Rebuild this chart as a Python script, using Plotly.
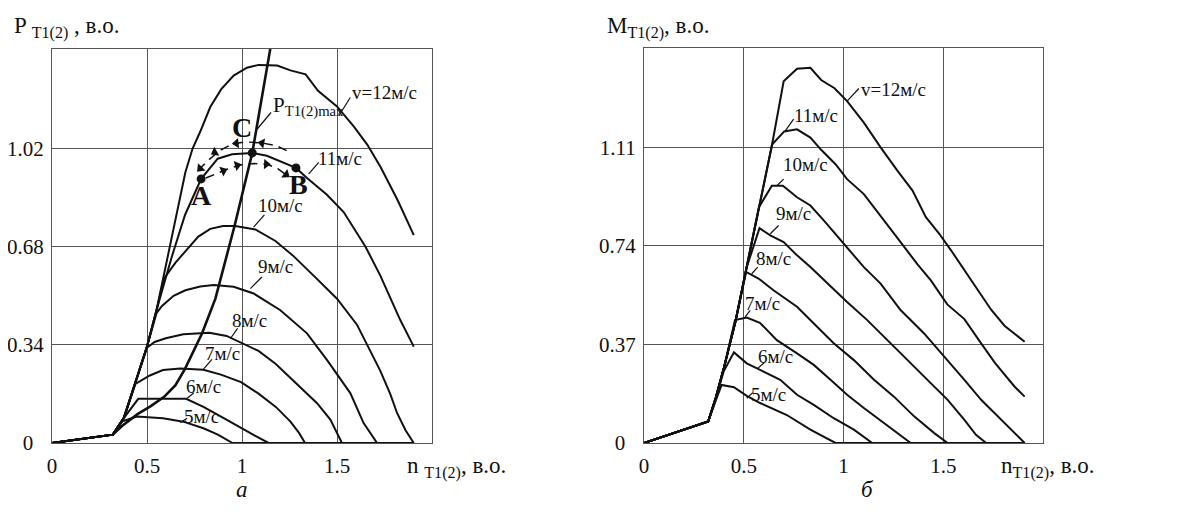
import math
import plotly.graph_objects as go

FONT = "Liberation Serif"

# ---------------- Left chart (а): power P vs speed n ----------------
p12_n = [0, 0.32, 0.378, 0.431, 0.50, 0.55, 0.59, 0.65, 0.702, 0.74, 0.781, 0.833, 0.89, 0.956, 1.026, 1.088, 1.185, 1.255, 1.335, 1.40, 1.50, 1.59, 1.66, 1.73, 1.82, 1.904]
p12_v = [0, 0.029, 0.086, 0.194, 0.334, 0.46, 0.587, 0.77, 0.938, 1.02, 1.08, 1.164, 1.225, 1.273, 1.30, 1.31, 1.308, 1.291, 1.277, 1.22, 1.166, 1.095, 1.033, 0.955, 0.84, 0.72]
p11_n = [0, 0.32, 0.378, 0.431, 0.50, 0.55, 0.629, 0.70, 0.785, 0.872, 0.948, 1.054, 1.131, 1.284, 1.342, 1.447, 1.535, 1.65, 1.728, 1.833, 1.904]
p11_v = [0, 0.029, 0.086, 0.194, 0.334, 0.46, 0.642, 0.79, 0.915, 0.985, 1.0, 1.005, 0.995, 0.953, 0.918, 0.86, 0.80, 0.68, 0.58, 0.426, 0.334]
p10_n = [0, 0.32, 0.378, 0.431, 0.50, 0.55, 0.59, 0.65, 0.705, 0.77, 0.833, 0.90, 0.964, 1.07, 1.176, 1.267, 1.389, 1.50, 1.605, 1.675, 1.728, 1.78, 1.816, 1.86, 1.904]
p10_v = [0, 0.029, 0.086, 0.194, 0.334, 0.46, 0.57, 0.625, 0.665, 0.715, 0.742, 0.752, 0.752, 0.74, 0.70, 0.65, 0.572, 0.50, 0.41, 0.32, 0.25, 0.17, 0.104, 0.045, 0]
p9_n = [0, 0.32, 0.378, 0.431, 0.50, 0.55, 0.579, 0.64, 0.702, 0.78, 0.851, 0.956, 1.061, 1.202, 1.342, 1.447, 1.570, 1.640, 1.711, 1.904]
p9_v = [0, 0.029, 0.086, 0.194, 0.334, 0.45, 0.475, 0.51, 0.529, 0.542, 0.547, 0.541, 0.518, 0.460, 0.380, 0.288, 0.173, 0.069, 0, 0]
p8_n = [0, 0.32, 0.378, 0.431, 0.50, 0.54, 0.599, 0.691, 0.828, 0.919, 0.995, 1.087, 1.178, 1.27, 1.395, 1.465, 1.526, 1.904]
p8_v = [0, 0.029, 0.086, 0.194, 0.330, 0.350, 0.363, 0.377, 0.382, 0.371, 0.348, 0.319, 0.274, 0.217, 0.138, 0.081, 0, 0]
p7_n = [0, 0.32, 0.378, 0.439, 0.515, 0.584, 0.675, 0.797, 0.889, 0.995, 1.087, 1.178, 1.255, 1.30, 1.332, 1.904]
p7_v = [0, 0.029, 0.086, 0.205, 0.234, 0.253, 0.258, 0.254, 0.237, 0.211, 0.171, 0.125, 0.074, 0.035, 0, 0]
p6_n = [0, 0.32, 0.378, 0.454, 0.706, 0.797, 0.904, 0.995, 1.07, 1.14, 1.904]
p6_v = [0, 0.029, 0.086, 0.153, 0.153, 0.125, 0.086, 0.051, 0.025, 0, 0]
p5_n = [0, 0.32, 0.37, 0.447, 0.584, 0.691, 0.797, 0.873, 0.95, 1.904]
p5_v = [0, 0.029, 0.075, 0.092, 0.086, 0.074, 0.051, 0.029, 0, 0]
pmax_n = [0.32, 0.37, 0.45, 0.52, 0.59, 0.65, 0.70, 0.79, 0.86, 0.96, 1.054, 1.15]
pmax_v = [0.029, 0.06, 0.10, 0.128, 0.16, 0.20, 0.257, 0.38, 0.50, 0.75, 1.005, 1.37]

left_ticks_x = [0, 0.5, 1, 1.5]
left_ticks_y = [0, 0.34, 0.68, 1.02]
left_tick_text_y = ["0\u00a0\u00a0", "0.34", "0.68", "1.02"]

# operating points A, C, B
pt_names = ["A", "C", "B"]
pt_n = [0.785, 1.054, 1.284]
pt_v = [0.915, 1.005, 0.953]
pt_lab_n = [0.786, 1.0, 1.295]
pt_lab_v = [0.857, 1.093, 0.897]

# dashed transition arcs
arc_up_n = [1.235, 1.18, 1.10, 1.02, 0.95, 0.88, 0.82, 0.775]
arc_up_v = [1.013, 1.030, 1.040, 1.043, 1.036, 1.012, 0.978, 0.948]
arc_lo_n = [0.81, 0.86, 0.92, 0.99, 1.06, 1.13, 1.19, 1.235]
arc_lo_v = [0.918, 0.932, 0.948, 0.963, 0.968, 0.966, 0.950, 0.928]
# arrow heads on the arcs: head point and the point it comes from
arrow_head_n = [1.105, 0.97, 0.857, 0.78, 0.902, 0.975, 1.128, 1.232]
arrow_head_v = [1.039, 1.038, 1.007, 0.951, 0.943, 0.962, 0.966, 0.930]
arrow_from_n = [1.18, 1.05, 0.92, 0.83, 0.84, 0.93, 1.05, 1.18]
arrow_from_v = [1.030, 1.043, 1.030, 0.985, 0.926, 0.954, 0.968, 0.955]

left_labels = ["v=12м/с", "11м/с", "10м/с", "9м/с", "8м/с", "7м/с", "6м/с", "5м/с"]
left_lab_n = [1.749, 1.518, 1.205, 1.175, 1.040, 0.895, 0.798, 0.789]
left_lab_v = [1.214, 0.984, 0.822, 0.612, 0.426, 0.311, 0.196, 0.092]
left_lead_n0 = [1.509, 1.351, 1.061, 1.044, 0.939, 0.798, 0.711, 0.675]
left_lead_v0 = [1.133, 0.932, 0.748, 0.535, 0.362, 0.257, 0.155, 0.071]
left_lead_n1 = [1.570, 1.404, 1.118, 1.105, 0.977, 0.842, 0.746, 0.711]
left_lead_v1 = [1.197, 0.972, 0.790, 0.575, 0.397, 0.290, 0.173, 0.086]
pmax_lab_n = 1.155
pmax_lab_v = 1.165
pmax_lead_n = [1.079, 1.153]
pmax_lead_v = [1.087, 1.145]

# ---------------- Right chart (б): torque M vs speed n ----------------
m12_n = [0, 0.322, 0.36, 0.40, 0.459, 0.515, 0.576, 0.642, 0.70, 0.767, 0.834, 0.888, 0.955, 1.018, 1.102, 1.186, 1.270, 1.346, 1.413, 1.480, 1.539, 1.606, 1.673, 1.740, 1.807, 1.908]
m12_v = [0, 0.081, 0.17, 0.28, 0.458, 0.66, 0.88, 1.12, 1.357, 1.404, 1.408, 1.362, 1.331, 1.283, 1.202, 1.109, 1.022, 0.947, 0.847, 0.785, 0.723, 0.648, 0.57, 0.50, 0.44, 0.380]
m11_n = [0, 0.322, 0.36, 0.40, 0.459, 0.515, 0.576, 0.642, 0.703, 0.767, 0.834, 0.888, 0.960, 1.018, 1.102, 1.186, 1.270, 1.371, 1.438, 1.520, 1.606, 1.690, 1.760, 1.857, 1.908]
m11_v = [0, 0.081, 0.17, 0.28, 0.458, 0.66, 0.88, 1.12, 1.169, 1.177, 1.146, 1.10, 1.046, 0.99, 0.934, 0.85, 0.77, 0.67, 0.61, 0.52, 0.465, 0.374, 0.30, 0.212, 0.174]
m10_n = [0, 0.322, 0.36, 0.40, 0.459, 0.515, 0.576, 0.641, 0.696, 0.767, 0.834, 0.901, 1.002, 1.102, 1.186, 1.287, 1.404, 1.522, 1.606, 1.690, 1.790, 1.857, 1.908]
m10_v = [0, 0.081, 0.17, 0.28, 0.458, 0.66, 0.885, 0.965, 0.965, 0.922, 0.891, 0.835, 0.747, 0.660, 0.598, 0.498, 0.411, 0.311, 0.237, 0.162, 0.087, 0.037, 0]
m9_n = [0, 0.322, 0.36, 0.40, 0.459, 0.515, 0.579, 0.633, 0.700, 0.767, 0.834, 0.935, 1.018, 1.119, 1.220, 1.320, 1.421, 1.522, 1.606, 1.664, 1.715, 1.908]
m9_v = [0, 0.081, 0.17, 0.28, 0.458, 0.66, 0.806, 0.779, 0.754, 0.704, 0.660, 0.586, 0.529, 0.461, 0.386, 0.311, 0.237, 0.162, 0.087, 0.031, 0, 0]
m8_n = [0, 0.322, 0.36, 0.40, 0.459, 0.512, 0.574, 0.649, 0.767, 0.851, 0.951, 1.052, 1.153, 1.253, 1.354, 1.455, 1.522, 1.908]
m8_v = [0, 0.081, 0.17, 0.28, 0.458, 0.642, 0.617, 0.573, 0.511, 0.448, 0.374, 0.311, 0.237, 0.174, 0.100, 0.037, 0, 0]
m7_n = [0, 0.322, 0.36, 0.40, 0.456, 0.515, 0.581, 0.666, 0.767, 0.851, 0.935, 1.018, 1.102, 1.203, 1.287, 1.337, 1.908]
m7_v = [0, 0.081, 0.17, 0.28, 0.461, 0.471, 0.451, 0.386, 0.336, 0.293, 0.237, 0.181, 0.131, 0.075, 0.031, 0, 0]
m6_n = [0, 0.322, 0.36, 0.40, 0.451, 0.515, 0.582, 0.683, 0.767, 0.851, 0.951, 1.052, 1.144, 1.908]
m6_v = [0, 0.081, 0.17, 0.27, 0.340, 0.299, 0.274, 0.237, 0.181, 0.143, 0.093, 0.050, 0, 0]
m5_n = [0, 0.322, 0.36, 0.389, 0.451, 0.515, 0.582, 0.716, 0.834, 0.960, 1.908]
m5_v = [0, 0.081, 0.16, 0.218, 0.209, 0.177, 0.150, 0.105, 0.050, 0, 0]

right_ticks_x = [0, 0.5, 1, 1.5]
right_ticks_y = [0, 0.37, 0.74, 1.11]
right_tick_text_y = ["0\u00a0\u00a0", "0.37", "0.74", "1.11"]

right_labels = ["v=12м/с", "11м/с", "10м/с", "9м/с", "8м/с", "7м/с", "6м/с", "5м/с"]
right_lab_n = [1.250, 0.864, 0.809, 0.747, 0.649, 0.596, 0.659, 0.624]
right_lab_v = [1.327, 1.227, 1.046, 0.860, 0.691, 0.523, 0.326, 0.181]
right_lead_n0 = [1.018, 0.708, 0.666, 0.633, 0.540, 0.507, 0.570, 0.515]
right_lead_v0 = [1.283, 1.171, 0.965, 0.785, 0.635, 0.473, 0.280, 0.168]
right_lead_n1 = [1.077, 0.750, 0.700, 0.675, 0.570, 0.532, 0.602, 0.545]
right_lead_v1 = [1.330, 1.215, 0.990, 0.816, 0.660, 0.498, 0.301, 0.189]

# ---------------- page geometry (body has an 8px margin) ----------------
W, H, OFF = 1163, 496, 8


def px(x):
    return (x - OFF) / W


def py(y):
    return 1 - (y - OFF) / H


L_DOM_X = [px(52), px(432)]
L_DOM_Y = [py(443), py(49)]
L_RANGE_Y = [0, 1.365]
# screen pixels per data unit in the left chart (to orient arrow heads)
sx = (L_DOM_X[1] - L_DOM_X[0]) * W / 2.0
sy = (L_DOM_Y[1] - L_DOM_Y[0]) * H / (L_RANGE_Y[1] - L_RANGE_Y[0])
arrow_angle = [math.degrees(math.atan2((hx - fx) * sx, (hy - fy) * sy))
               for hx, hy, fx, fy in zip(arrow_head_n, arrow_head_v, arrow_from_n, arrow_from_v)]

# ---------------- figure ----------------
fig = go.Figure()
LINE = dict(color="#111111", width=2)

left_curves = [(p12_n, p12_v), (p11_n, p11_v), (p10_n, p10_v), (p9_n, p9_v),
               (p8_n, p8_v), (p7_n, p7_v), (p6_n, p6_v), (p5_n, p5_v)]
for xs, ys in left_curves:
    fig.add_trace(go.Scatter(x=xs, y=ys, mode="lines", line=LINE, xaxis="x", yaxis="y", hoverinfo="skip"))
fig.add_trace(go.Scatter(x=pmax_n, y=pmax_v, mode="lines", line=dict(color="#111111", width=2.6),
                         xaxis="x", yaxis="y", hoverinfo="skip"))
fig.add_trace(go.Scatter(x=arc_up_n, y=arc_up_v, mode="lines", line=dict(color="#111111", width=1.5, dash="9px,6px"),
                         xaxis="x", yaxis="y", hoverinfo="skip"))
fig.add_trace(go.Scatter(x=arc_lo_n, y=arc_lo_v, mode="lines", line=dict(color="#111111", width=1.5, dash="9px,6px"),
                         xaxis="x", yaxis="y", hoverinfo="skip"))
fig.add_trace(go.Scatter(x=arrow_head_n, y=arrow_head_v, mode="markers",
                         marker=dict(symbol="triangle-up", size=9, color="#111111", angle=arrow_angle,
                                     line=dict(width=0)),
                         xaxis="x", yaxis="y", hoverinfo="skip"))
fig.add_trace(go.Scatter(x=pt_n, y=pt_v, mode="markers", marker=dict(color="#111111", size=9),
                         xaxis="x", yaxis="y", hoverinfo="skip"))
for i in range(len(left_labels)):
    fig.add_trace(go.Scatter(x=[left_lead_n0[i], left_lead_n1[i]], y=[left_lead_v0[i], left_lead_v1[i]],
                             mode="lines", line=dict(color="#111111", width=1.2), xaxis="x", yaxis="y", hoverinfo="skip"))
fig.add_trace(go.Scatter(x=pmax_lead_n, y=pmax_lead_v, mode="lines", line=dict(color="#111111", width=1.2),
                         xaxis="x", yaxis="y", hoverinfo="skip"))

right_curves = [(m12_n, m12_v), (m11_n, m11_v), (m10_n, m10_v), (m9_n, m9_v),
                (m8_n, m8_v), (m7_n, m7_v), (m6_n, m6_v), (m5_n, m5_v)]
for xs, ys in right_curves:
    fig.add_trace(go.Scatter(x=xs, y=ys, mode="lines", line=LINE, xaxis="x2", yaxis="y2", hoverinfo="skip"))
for i in range(len(right_labels)):
    fig.add_trace(go.Scatter(x=[right_lead_n0[i], right_lead_n1[i]], y=[right_lead_v0[i], right_lead_v1[i]],
                             mode="lines", line=dict(color="#111111", width=1.2), xaxis="x2", yaxis="y2", hoverinfo="skip"))

ann = []
LABFONT = dict(family=FONT, size=19, color="#111111")
for t, x, y in zip(left_labels, left_lab_n, left_lab_v):
    ann.append(dict(text=t, x=x, y=y, xref="x", yref="y", showarrow=False, font=LABFONT))
for t, x, y in zip(right_labels, right_lab_n, right_lab_v):
    ann.append(dict(text=t, x=x, y=y, xref="x2", yref="y2", showarrow=False, font=LABFONT))
for t, x, y in zip(pt_names, pt_lab_n, pt_lab_v):
    ann.append(dict(text="<b>" + t + "</b>", x=x, y=y, xref="x", yref="y", showarrow=False,
                    font=dict(family=FONT, size=28, color="#111111")))
ann.append(dict(text="P<sub>T1(2)max</sub>", x=pmax_lab_n, y=pmax_lab_v, xref="x", yref="y",
                xanchor="left", showarrow=False, font=dict(family=FONT, size=21, color="#111111")))

TF = dict(family=FONT, size=21, color="#111111")
TT = dict(family=FONT, size=23, color="#111111")
ann += [
    dict(text="P <sub>T1(2)</sub> , в.о.", x=px(12), y=py(28), xref="paper", yref="paper",
         xanchor="left", yanchor="middle", showarrow=False, font=TT),
    dict(text="M<sub>T1(2)</sub>, в.о.", x=px(605), y=py(28), xref="paper", yref="paper",
         xanchor="left", yanchor="middle", showarrow=False, font=TT),
    dict(text="n <sub>T1(2)</sub>, в.о.", x=px(405), y=py(467), xref="paper", yref="paper",
         xanchor="left", yanchor="middle", showarrow=False, font=TT),
    dict(text="n<sub>T1(2)</sub>, в.о.", x=px(999), y=py(467), xref="paper", yref="paper",
         xanchor="left", yanchor="middle", showarrow=False, font=TT),
    dict(text="<i>а</i>", x=px(242), y=py(504), xref="paper", yref="paper",
         xanchor="center", yanchor="bottom", showarrow=False, font=dict(family=FONT, size=23, color="#111111")),
    dict(text="<i>б</i>", x=px(867), y=py(504), xref="paper", yref="paper",
         xanchor="center", yanchor="bottom", showarrow=False, font=dict(family=FONT, size=23, color="#111111")),
]

AX = dict(showgrid=True, gridcolor="#555555", gridwidth=1, zeroline=False, showline=True, mirror=True,
          linecolor="#555555", linewidth=1, ticks="", tickfont=TF, fixedrange=True, automargin=False)
fig.update_layout(
    width=W, height=H, margin=dict(l=0, r=0, t=0, b=0, pad=0), autosize=False,
    paper_bgcolor="white", plot_bgcolor="white", showlegend=False,
    font=dict(family=FONT, color="#111111"),
    xaxis=dict(AX, domain=L_DOM_X, range=[0, 2], tickvals=left_ticks_x,
               ticktext=[str(v) for v in left_ticks_x], ticklabelstandoff=4, anchor="y"),
    yaxis=dict(AX, domain=L_DOM_Y, range=L_RANGE_Y, tickvals=left_ticks_y,
               ticktext=left_tick_text_y, ticklabelstandoff=3, anchor="x"),
    xaxis2=dict(AX, domain=[px(644), px(1043)], range=[0, 2], tickvals=right_ticks_x,
                ticktext=[str(v) for v in right_ticks_x], ticklabelstandoff=4, anchor="y2"),
    yaxis2=dict(AX, domain=[py(443), py(48)], range=[0, 1.482], tickvals=right_ticks_y,
                ticktext=right_tick_text_y, ticklabelstandoff=3, anchor="x2"),
    annotations=ann,
)
fig.write_html("out.html")
